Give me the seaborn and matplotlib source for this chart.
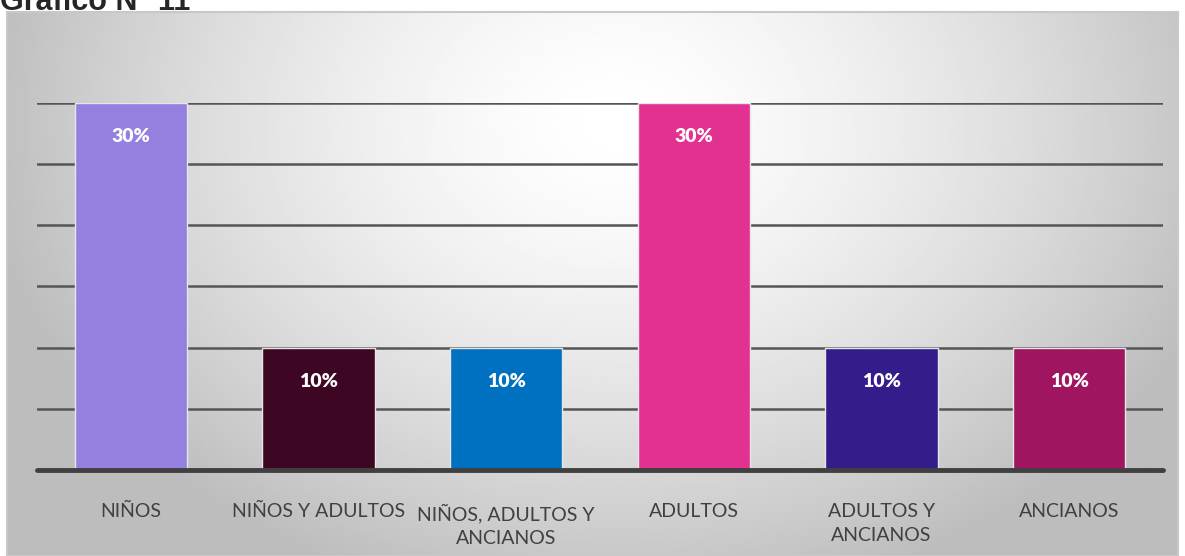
import numpy as np
import pandas as pd
import matplotlib
matplotlib.use("Agg")
import matplotlib.pyplot as plt
import seaborn as sns

# datos del gráfico
categorias = ["NIÑOS", "NIÑOS Y ADULTOS", "NIÑOS, ADULTOS Y\nANCIANOS",
              "ADULTOS", "ADULTOS Y\nANCIANOS", "ANCIANOS"]
porcentajes = [0.30, 0.10, 0.10, 0.30, 0.10, 0.10]
etiquetas = ["30%", "10%", "10%", "30%", "10%", "10%"]
colores = ["#9580E0", "#3D0723", "#0070C0", "#E33192", "#341C8A", "#A01560"]

sns.set_theme(style="white")
plt.rcParams["font.family"] = ["Lato", "DejaVu Sans"]

W, H = 1185, 556
fig = plt.figure(figsize=(W / 100, H / 100), dpi=100)
fig.patch.set_facecolor("white")

# fondo con degradado radial (blanco al centro, gris en los bordes)
bg = fig.add_axes([7 / W, 0, (1178 - 7) / W, (556 - 12) / H])
yy, xx = np.mgrid[0:1:300j, 0:1:600j]
r = np.sqrt(((xx - 0.52) / 0.60) ** 2 + ((yy - 0.20) / 1.0) ** 2)
shade = np.clip(1 - 0.30 * r ** 1.5, 0.74, 1)
bg.imshow(shade, cmap="gray", vmin=0, vmax=1, aspect="auto",
          extent=[0, 1, 0, 1], origin="upper")
bg.set_xticks([])
bg.set_yticks([])
for s in bg.spines.values():
    s.set_color("#c8c8c8")
    s.set_linewidth(1.5)

df = pd.DataFrame({"categoria": categorias, "valor": porcentajes})

ax = fig.add_axes([37 / W, (H - 470) / H, (1163 - 37) / W, (470 - 103) / H])
ax.patch.set_alpha(0)
sns.barplot(data=df, x="categoria", y="valor", hue="categoria",
            palette=colores, saturation=1, width=0.6, legend=False, ax=ax,
            edgecolor="#e6e6e6", linewidth=1, zorder=3)

ax.set_xlim(-0.5, len(categorias) - 0.5)
ax.set_ylim(0, 0.30)
ax.set_yticks(np.arange(0.05, 0.301, 0.05))
ax.yaxis.grid(True, color="#555555", linewidth=1.8, zorder=1)
ax.set_axisbelow(True)
ax.axhline(0, color="#404040", linewidth=3.5, zorder=4, clip_on=False)
for s in ax.spines.values():
    s.set_visible(False)
ax.tick_params(axis="y", left=False, labelleft=False)
ax.tick_params(axis="x", bottom=False, pad=18, labelsize=14, labelcolor="#404040")
ax.set_xlabel("")
ax.set_ylabel("")
for lab in ax.get_xticklabels():
    lab.set_verticalalignment("top")
    lab.set_linespacing(1.5)

for i, (v, t) in enumerate(zip(porcentajes, etiquetas)):
    ax.annotate(t, (i, v), xytext=(0, -34), textcoords="offset pixels",
                ha="center", va="center", color="white",
                fontsize=14, fontweight="heavy", zorder=5)

# título recortado en la parte superior
fig.text(0, 1 - 10 / H, "Gráfico N° 11", fontsize=22, fontweight="bold",
         family=["Liberation Sans", "DejaVu Sans"], va="baseline", ha="left")

fig.savefig("out.png", dpi=100)
